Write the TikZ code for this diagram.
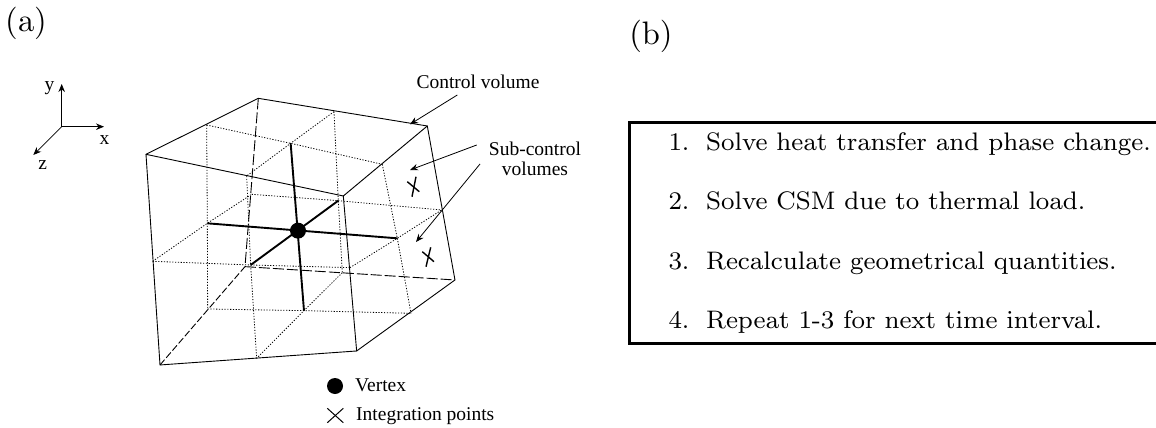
\documentclass[tikz,border=0pt]{standalone}
\usepackage{fontspec}
\newfontfamily\labfont{Liberation Serif}
\font\listfont=cmr8 at 25.35pt
\font\headfont=cmr10 at 32.5pt
\usetikzlibrary{arrows.meta}
\tikzset{
 edge/.style={line width=0.9pt,line cap=round,line join=round},
 hid/.style={line width=0.9pt,dash pattern=on 11pt off 3pt},
 dot/.style={line width=0.8pt,dash pattern=on 1.2pt off 1.6pt},
 thick line/.style={line width=1.9pt},
 arr/.style={line width=0.8pt,-{Stealth[length=8pt,width=6.5pt]}},
 lab/.style={font=\labfont\fontsize{19.5}{20}\selectfont,inner sep=0pt},
 head/.style={font=\headfont,inner sep=0pt},
 item/.style={font=\listfont,inner sep=0pt,anchor=base west},
}
\begin{document}
\begin{tikzpicture}[x=1pt,y=-1pt]
\useasboundingbox (0,0) rectangle (1156,428);
% zoomed coordinates of the reference crop
\begin{scope}[shift={(130,60)},x=0.3333pt,y=-0.3333pt]
\coordinate (A) at (48,283);
\coordinate (B) at (385,115);
\coordinate (C) at (892,198);
\coordinate (D) at (640,408);
\coordinate (E) at (90,915);
\coordinate (F) at (680,873);
\coordinate (G) at (975,660);
\coordinate (H) at (345,620);
\coordinate (ab) at (230,195);
\coordinate (bc) at (612,155);
\coordinate (cd) at (757,313);
\coordinate (da) at (350,348);
\coordinate (ae) at (68,604);
\coordinate (df) at (660,623);
\coordinate (ef) at (380,895);
\coordinate (cg) at (935,450);
\coordinate (fg) at (843,760);
\coordinate (bh) at (365,403);
\coordinate (eh) at (233,747);
\coordinate (hg) at (637,638);
\coordinate (ctop) at (482,250);
\coordinate (cbot) at (522,752);
\coordinate (cleft) at (232,490);
\coordinate (cright) at (802,535);
\coordinate (cfront) at (362,615);
\coordinate (cback) at (625,422);
\coordinate (mid) at (504,512);
\end{scope}
% hidden edges
\draw[hid] (B) -- (H);
\draw[hid,dash pattern=on 7pt off 2.5pt] (E) -- (H);
\draw[hid] (H) -- (G);
% dotted grid
\draw[dot] (ab) -- (ctop) -- (cd);
\draw[dot] (bc) -- (ctop) -- (da);
\draw[dot] (da) -- (cfront) -- (ef);
\draw[dot] (ae) -- (cfront) -- (df);
\draw[dot] (ab) -- (cleft) -- (eh);
\draw[dot] (ae) -- (cleft) -- (bh);
\draw[dot] (eh) -- (cbot) -- (fg);
\draw[dot] (hg) -- (cbot) -- (ef);
\draw[dot] (cd) -- (cright) -- (fg);
\draw[dot] (df) -- (cright) -- (cg);
\draw[dot] (bc) -- (cback) -- (hg);
\draw[dot] (bh) -- (cback) -- (cg);
% solid edges
\draw[edge] (E) -- (A) -- (B) -- (C) -- (G) -- (F) -- cycle;
\draw[edge] (A) -- (D) -- (C);
\draw[edge] (D) -- (F);
% sub-control axes
\draw[thick line] (ctop) -- (cbot);
\draw[thick line] (cleft) -- (cright);
\draw[thick line] (cfront) -- (cback);
\node[circle,fill=black,minimum size=16pt,inner sep=0pt] (vtx) at (mid) {};
% integration points
\begin{scope}[line width=1.4pt]
\draw (407.3,181.7) -- (419.3,191.7);
\draw (416,176.7) -- (412,196.7);
\draw (422.3,251.7) -- (434,261.7);
\draw (430.7,247.3) -- (426,266.7);
\end{scope}
% axes
\coordinate (O) at (61.7,126.7);
\coordinate (yt) at (61.7,84);
\coordinate (xt) at (104,126.7);
\coordinate (zt) at (33.3,155);
\draw[arr] (O) -- (yt);
\draw[arr] (O) -- (xt);
\draw[arr] (O) -- (zt);
\node[lab] (ly) at (49.5,88) {y};
\node[lab] (lx) at (104.5,140) {x};
\node[lab] (lz) at (42.7,165.5) {z};
% labels and arrows
\node[lab] (cv) at (478,82) {Control volume};
\node[lab,align=center] (scv) at (535,159) {Sub-control\\volumes};
\coordinate (c1s) at (457.3,95);
\coordinate (c1e) at (410,124.3);
\coordinate (s1s) at (476.7,145);
\coordinate (s1e) at (410,170);
\coordinate (s2s) at (480,164);
\coordinate (s2e) at (416,242);
\draw[arr] (c1s) -- (c1e);
\draw[arr] (s1s) -- (s1e);
\draw[arr] (s2s) -- (s2e);
% legend
\node[circle,fill=black,minimum size=16pt,inner sep=0pt] (lv) at (335,386) {};
\draw[line width=1pt] (327.3,408.3) -- (343.3,422.7);
\draw[line width=1pt] (343.3,408.3) -- (327.3,422.7);
\node[lab,anchor=base west] (tv) at (355,391.7) {Vertex};
\node[lab,anchor=base west] (ti) at (356,420) {Integration points};
% panel titles
\node[head] (pa) at (26,23.3) {(a)};
\node[head] (pb) at (651,36.4) {(b)};
% box, open at the right
\coordinate (b1) at (1156,122.7);
\coordinate (b2) at (629.3,122.7);
\coordinate (b3) at (629.3,343.3);
\coordinate (b4) at (1156,343.3);
\draw[line width=3.2pt] (b1) -- (b2) -- (b3) -- (b4);
\node[item] (n1) at (668.3,150.7) {1.};
\node[item] (t1) at (706,150.7) {Solve heat transfer and phase change.};
\node[item] (n2) at (668.3,209.5) {2.};
\node[item] (t2) at (706,209.5) {Solve CSM due to thermal load.};
\node[item] (n3) at (668.3,269.3) {3.};
\node[item] (t3) at (706,269.3) {Recalculate geometrical quantities.};
\node[item] (n4) at (668.3,328.3) {4.};
\node[item] (t4) at (706,328.3) {Repeat 1-3 for next time interval.};
\end{tikzpicture}
\end{document}
